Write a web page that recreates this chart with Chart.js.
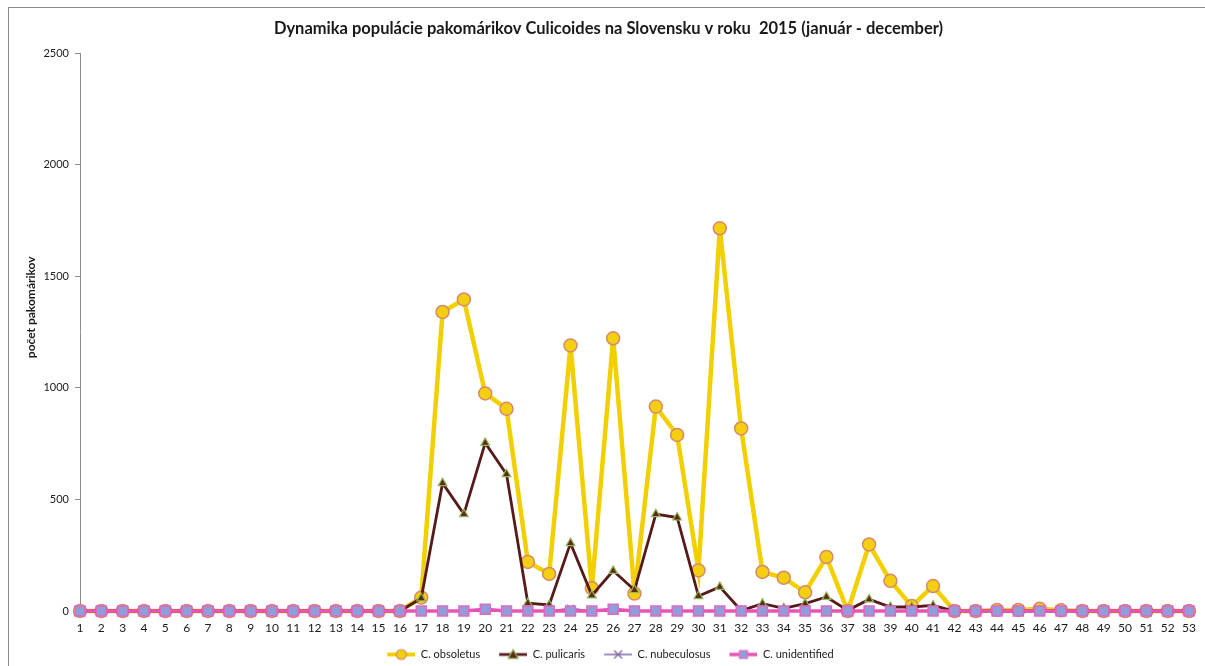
<!DOCTYPE html>
<html>
<head>
<meta charset="utf-8">
<title>Dynamika populácie pakomárikov Culicoides</title>
<script src="https://cdn.jsdelivr.net/npm/chart.js@4.4.1/dist/chart.umd.min.js"></script>
<style>
  html, body { margin: 0; padding: 0; background: #fff; overflow: hidden; }
  #wrap { position: relative; width: 1205px; height: 666px; }
  #frame { position: absolute; left: 8px; top: 7px; width: 1300px; height: 700px;
           border-left: 1px solid #8c8c8c; border-top: 1px solid #8c8c8c; pointer-events: none; }
</style>
</head>
<body>
<div id="wrap">
  <canvas id="chart" width="1205" height="666"></canvas>
  <div id="frame"></div>
</div>
<script>
// weeks of the year (x axis)
const weeks = ['1','2','3','4','5','6','7','8','9','10','11','12','13','14','15','16','17','18','19','20',
  '21','22','23','24','25','26','27','28','29','30','31','32','33','34','35','36','37','38','39','40',
  '41','42','43','44','45','46','47','48','49','50','51','52','53'];

// counts per week
const obsoletus = [0,0,0,0,0,0,0,0,0,0,0,0,0,0,0,0,
  60,1340,1396,975,906,220,166,1190,102,1222,78,916,789,182,1715,818,175,149,84,242,0,298,135,22,112,
  0,0,5,5,10,3,0,0,0,0,0,0];
const pulicaris = [0,0,0,0,0,0,0,0,0,0,0,0,0,0,0,0,
  57,573,434,753,613,35,27,304,70,180,94,434,419,67,108,2,33,12,33,63,3,52,18,18,25,
  0,0,0,0,0,0,0,0,0,0,0,0];
const nubeculosus = [0,0,0,0,0,0,0,0,0,0,0,0,0,0,0,0,
  0,0,0,0,0,0,0,12,0,0,0,0,0,0,0,0,0,0,0,0,0,0,0,0,0,
  0,0,0,0,0,0,0,0,0,0,0,0];
const unidentified = [0,0,0,0,0,0,0,0,0,0,0,0,0,0,0,0,
  0,0,0,8,0,0,0,0,0,8,0,0,0,0,0,0,0,0,0,0,0,0,0,0,0,
  0,0,0,0,0,0,0,0,0,0,0,0];

const yTicks = [0, 500, 1000, 1500, 2000, 2500];

const fontFamily = 'Lato, "Open Sans", sans-serif';

// small line + marker pictures for the legend (like Excel draws it)
// the empty strip on the left gives the gap between legend entries
function legendIcon(ds) {
  const c = document.createElement('canvas');
  c.width = 44; c.height = 14;
  const g = c.getContext('2d');
  const x0 = 16, mid = 30;
  g.strokeStyle = ds.borderColor;
  g.lineWidth = Math.min(ds.borderWidth, 4);
  g.beginPath(); g.moveTo(x0, 7); g.lineTo(44, 7); g.stroke();
  g.fillStyle = ds.pointBackgroundColor;
  g.strokeStyle = ds.pointBorderColor;
  g.lineWidth = 1.2;
  g.beginPath();
  if (ds.pointStyle === 'circle') {
    g.arc(mid, 7, 5, 0, Math.PI * 2); g.fill(); g.stroke();
  } else if (ds.pointStyle === 'triangle') {
    g.moveTo(mid, 2); g.lineTo(mid + 5, 11); g.lineTo(mid - 5, 11); g.closePath(); g.fill(); g.stroke();
  } else if (ds.pointStyle === 'crossRot') {
    g.strokeStyle = ds.borderColor;
    g.moveTo(mid - 4, 3); g.lineTo(mid + 4, 11); g.moveTo(mid + 4, 3); g.lineTo(mid - 4, 11); g.stroke();
  } else {
    g.rect(mid - 4, 3, 8, 8); g.fill(); g.stroke();
  }
  return c;
}

// lower "order" is painted last (on top): later series sit above earlier ones, as in Excel
const datasets = [
  {
    label: 'C. obsoletus', data: obsoletus, order: 4,
    borderColor: '#f2d000', borderWidth: 4.5,
    pointStyle: 'circle', pointRadius: 6.5,
    pointBackgroundColor: '#f4cf10', pointBorderColor: '#d58a6e', pointBorderWidth: 1.5
  },
  {
    label: 'C. pulicaris', data: pulicaris, order: 3,
    borderColor: '#561a1a', borderWidth: 2.8,
    pointStyle: 'triangle', pointRadius: 5,
    pointBackgroundColor: '#5e2a16', pointBorderColor: '#8fb85c', pointBorderWidth: 1.2
  },
  {
    label: 'C. nubeculosus', data: nubeculosus, order: 2,
    borderColor: '#8064a2', borderWidth: 1.5,
    pointStyle: 'crossRot', pointRadius: 5,
    pointBackgroundColor: '#6f8fd0', pointBorderColor: '#6f8fd0', pointBorderWidth: 1.5
  },
  {
    label: 'C. unidentified', data: unidentified, order: 1,
    borderColor: '#e854b6', borderWidth: 3.5,
    pointStyle: 'rect', pointRadius: 7,
    pointBackgroundColor: '#8f9ed8', pointBorderColor: '#e067c0', pointBorderWidth: 1.5
  }
];

datasets.forEach(ds => {
  ds.tension = 0;
  ds.fill = false;
  ds.clip = 10;
  ds.icon = legendIcon(ds);
});

new Chart(document.getElementById('chart'), {
  type: 'line',
  data: { labels: weeks, datasets: datasets },
  options: {
    responsive: false,
    animation: false,
    layout: { padding: { left: 0, right: 0, top: 0, bottom: -4 } },
    plugins: {
      title: {
        display: true,
        text: '\u00a0\u00a0\u00a0Dynamika populácie pakomárikov Culicoides na Slovensku v roku  2015 (január - december)',
        color: '#1a1a1a',
        font: { family: fontFamily, size: 16.5, weight: 'bold' },
        padding: { top: 19, bottom: 14.3 }
      },
      legend: {
        position: 'bottom',
        labels: {
          color: '#1a1a1a',
          font: { family: fontFamily, size: 11 },
          usePointStyle: true,
          pointStyleWidth: 44,
          boxHeight: 11,
          padding: 3,
          generateLabels: chart => {
            const items = Chart.defaults.plugins.legend.labels.generateLabels(chart);
            items.forEach(it => { it.pointStyle = chart.data.datasets[it.datasetIndex].icon; });
            return items.sort((a, b) => a.datasetIndex - b.datasetIndex);
          }
        }
      },
      tooltip: { enabled: false }
    },
    scales: {
      x: {
        offset: false,
        grid: { display: false },
        border: { display: true, color: '#8c8c8c' },
        afterFit: scale => { scale.height = 35; },
        ticks: {
          color: '#1a1a1a', font: { family: fontFamily, size: 12 },
          autoSkip: false, maxRotation: 0, padding: 2
        }
      },
      y: {
        min: 0, max: 2500,
        afterBuildTicks: scale => { scale.ticks = yTicks.map(v => ({ value: v })); },
        afterFit: scale => { scale.width = 80; },
        grid: { drawOnChartArea: false, drawTicks: true, tickLength: 5, color: '#8c8c8c' },
        border: { display: true, color: '#8c8c8c' },
        ticks: {
          color: '#1a1a1a', font: { family: fontFamily, size: 11 }, padding: 6,
          callback: value => String(value)
        },
        title: {
          display: true,
          text: '\u00a0'.repeat(17) + 'počet pakomárikov',
          color: '#1a1a1a',
          font: { family: fontFamily, size: 12, weight: 'bold' }, padding: { top: 24, bottom: 0 }
        }
      },
      // empty strip on the right, keeps week 53 at the reference position
      yRight: {
        position: 'right', min: 0, max: 2500,
        grid: { display: false }, border: { display: false },
        ticks: { display: false },
        afterFit: scale => { scale.width = 16; }
      }
    }
  }
});
</script>
</body>
</html>
